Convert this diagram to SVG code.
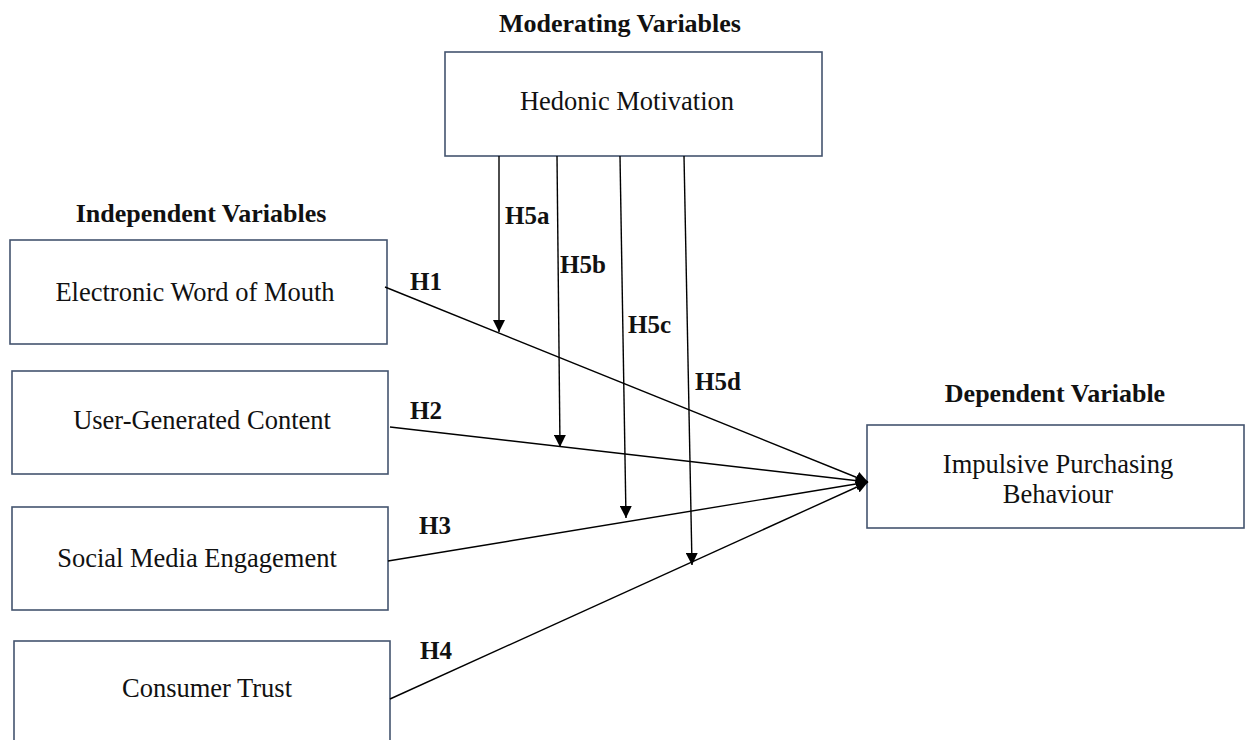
<svg xmlns="http://www.w3.org/2000/svg" width="1246" height="740" viewBox="0 0 1246 740">
<defs>
<marker id="ah" viewBox="0 0 12 12" refX="12" refY="6" markerWidth="12" markerHeight="12" markerUnits="userSpaceOnUse" orient="auto">
<path d="M0,0 L12,6 L0,12 Z" fill="#000"/>
</marker>
</defs>
<style>
.box{fill:#fff;stroke:#44546f;stroke-width:1.6}
.t{font-family:"Liberation Serif","Times New Roman",serif;font-size:26.5px;fill:#111;text-anchor:middle}
.h{font-family:"Liberation Serif","Times New Roman",serif;font-size:26px;font-weight:bold;fill:#111;text-anchor:middle}
.l{font-family:"Liberation Serif","Times New Roman",serif;font-size:25px;font-weight:bold;fill:#111}
.c{stroke:#000;stroke-width:1.4;fill:none;marker-end:url(#ah)}
</style>
<rect width="1246" height="740" fill="#fff"/>
<text class="h" x="620" y="32">Moderating Variables</text>
<text class="h" x="201" y="222">Independent Variables</text>
<text class="h" x="1055" y="402">Dependent Variable</text>
<g id="hedonic">
<rect class="box" x="445" y="52" width="377" height="104"/>
<text class="t" x="627" y="110">Hedonic Motivation</text>
</g>
<g id="ewom">
<rect class="box" x="10" y="240" width="377" height="104"/>
<text class="t" x="195" y="301">Electronic Word of Mouth</text>
</g>
<g id="ugc">
<rect class="box" x="12" y="371" width="376" height="103"/>
<text class="t" x="202" y="429">User-Generated Content</text>
</g>
<g id="sme">
<rect class="box" x="12" y="507" width="376" height="103"/>
<text class="t" x="197" y="567">Social Media Engagement</text>
</g>
<g id="trust">
<rect class="box" x="14" y="641" width="376" height="110"/>
<text class="t" x="207" y="697">Consumer Trust</text>
</g>
<g id="ipb">
<rect class="box" x="867" y="425" width="377" height="103"/>
<text class="t" x="1058" y="473">Impulsive Purchasing</text>
<text class="t" x="1058" y="503">Behaviour</text>
</g>
<g id="connectors">
<line class="c" x1="385" y1="287" x2="868" y2="482"/>
<line class="c" x1="390" y1="427" x2="868" y2="482"/>
<line class="c" x1="388" y1="561" x2="868" y2="482"/>
<line class="c" x1="390" y1="699" x2="868" y2="482"/>
<line class="c" x1="499" y1="156" x2="499" y2="332"/>
<line class="c" x1="557" y1="156" x2="560" y2="447"/>
<line class="c" x1="620" y1="156" x2="626" y2="518"/>
<line class="c" x1="684" y1="156" x2="692" y2="565"/>
<text class="l" x="410" y="290">H1</text>
<text class="l" x="410" y="419">H2</text>
<text class="l" x="419" y="534">H3</text>
<text class="l" x="420" y="659">H4</text>
<text class="l" x="505" y="224">H5a</text>
<text class="l" x="560" y="273">H5b</text>
<text class="l" x="628" y="333">H5c</text>
<text class="l" x="695" y="390">H5d</text>
</g>
</svg>
